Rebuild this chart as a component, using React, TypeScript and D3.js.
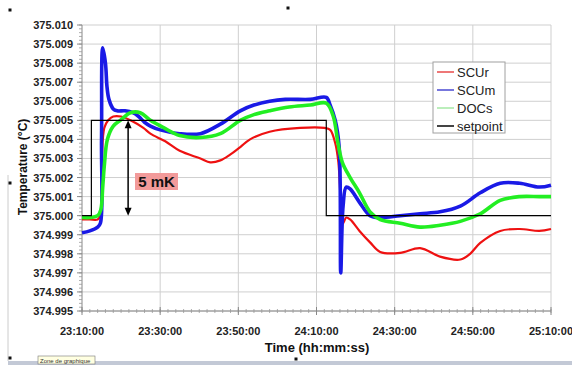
import * as d3 from "d3";

// time in minutes after 23:10:00, temperature in °C
const scurTime = [0, 2, 4, 4.7, 5.1, 5.7, 6.7, 8, 10, 12.4, 15.7, 17.5, 21.3, 25, 30.3, 32.8, 35.4, 37.9, 40.5, 43, 48, 55.8, 62, 63.5, 64.8, 65.6, 66.2, 66.8, 67.6, 68.6, 71, 73.7, 76.3, 81.4, 86.5, 91.6, 96.8, 99.3, 101.9, 107, 112, 117, 120];
const scurValues = [374.9998, 374.9998, 374.9998, 375.0, 375.003, 375.0046, 375.005, 375.0052, 375.0052, 375.005, 375.0046, 375.0043, 375.0039, 375.0034, 375.003, 375.0028, 375.0029, 375.0032, 375.0036, 375.004, 375.0044, 375.0046, 375.0046, 375.0045, 375.0038, 375.0028, 375.0008, 374.9996, 374.9999, 374.9998, 374.9992, 374.9986, 374.9981, 374.99805, 374.9983, 374.99785, 374.9977, 374.998, 374.99857, 374.9992, 374.9993, 374.9992, 374.9993];

const scumTime = [0, 2, 4, 4.7, 5.0, 5.3, 6.0, 6.4, 6.9, 8, 9, 11, 13, 14.5, 16, 17.5, 20, 25, 30.3, 35.4, 40.5, 44, 48, 52, 58.4, 62.5, 63.5, 64.8, 65.8, 66.2, 66.8, 67.6, 68.6, 71, 73.7, 76.3, 81.4, 86.5, 91.6, 96.8, 101.9, 107, 112, 117, 120];
const scumValues = [374.9991, 374.9992, 374.9994, 374.9996, 375.004, 375.0088, 375.008, 375.00675, 375.0061, 375.0056, 375.0055, 375.0055, 375.0054, 375.0052, 375.0049, 375.0047, 375.0045, 375.0043, 375.0043, 375.0048, 375.0055, 375.0058, 375.006, 375.0061, 375.0061, 375.0062, 375.0058, 375.005, 375.0036, 374.997, 375.0005, 375.0015, 375.0014, 375.0007, 375.0, 374.9999, 375.0, 375.0001, 375.0002, 375.0005, 375.0012, 375.0017, 375.0017, 375.0015, 375.0016];

const docsTime = [0, 2, 4, 4.8, 5.3, 5.7, 6.5, 8, 9.8, 12.4, 14.9, 17.5, 21, 25, 30.3, 35.4, 40.5, 44, 48, 53, 58.4, 62.5, 64.3, 65.5, 66.6, 68.6, 71, 73.7, 76.3, 81.4, 86.5, 91.6, 96.8, 101.9, 107, 112, 117, 120];
const docsValues = [374.9999, 374.9999, 375.0, 375.0003, 375.0015, 375.0026, 375.004, 375.0047, 375.005, 375.0054, 375.0054, 375.005, 375.0046, 375.0042, 375.0041, 375.0043, 375.005, 375.0053, 375.0055, 375.0057, 375.0058, 375.0059, 375.0052, 375.0038, 375.0028, 375.002, 375.0012, 375.0002, 374.9998, 374.9996, 374.9994, 374.9995, 374.9997, 375.0001, 375.0008, 375.001, 375.001, 375.001];

const setpointTime = [0, 2.4, 62.5, 120];
const setpointValues = [375.0, 375.005, 375.0, 375.0];

const xTickValues = [0, 20, 40, 60, 80, 100, 120];
const xTickLabels = ["23:10:00", "23:30:00", "23:50:00", "24:10:00", "24:30:00", "24:50:00", "25:10:00"];
const yTickValues = [374.995, 374.996, 374.997, 374.998, 374.999, 375.0, 375.001, 375.002, 375.003, 375.004, 375.005, 375.006, 375.007, 375.008, 375.009, 375.01];

const seriesNames = ["SCUr", "SCUm", "DOCs", "setpoint"];
const seriesColors = ["#ee1111", "#1a1ae6", "#22ee22", "#000000"];
const legendColors = ["#ee7777", "#7777dd", "#bbeebb", "#444444"];

const font = "'Liberation Sans', Arial, sans-serif";

export default function App() {
  const width = 572;
  const height = 365;

  const x = d3.scaleLinear().domain([0, 120]).range([82, 551]);
  const y = d3.scaleLinear().domain([374.995, 375.01]).range([311, 25]);

  const line = (ts: number[], vs: number[]) =>
    d3
      .line<number>()
      .x((_, i) => x(ts[i]))
      .y((v) => y(v))
      .curve(d3.curveCatmullRom.alpha(0.5))(vs) as string;

  const stepLine = d3
    .line<number>()
    .x((_, i) => x(setpointTime[i]))
    .y((v) => y(v))
    .curve(d3.curveStepAfter)(setpointValues) as string;

  const xMinor = d3.range(0, 120.01, 2);
  const yMinor = d3.range(0, 75.5, 1).map((k) => 374.995 + k * 0.0002);

  const arrowX = x(11.8);
  const yTop = y(375.005);
  const yBot = y(375.0);

  return (
    <svg
      width={width}
      height={height}
      style={{ position: "absolute", left: 0, top: 0, background: "#fff" }}
      fontFamily={font}
    >
      {/* frame bits from the screenshot */}
      <line x1={8} x2={8} y1={175} y2={361} stroke="#cccccc" />
      <rect x={8} y={361} width={564} height={4} fill="#c3c9d6" />
      {[
        [10, 10],
        [288, 8],
        [10, 183],
        [10, 358],
        [296, 359],
      ].map(([cx, cy], i) => (
        <rect key={i} x={cx - 1.5} y={cy - 1.5} width={3} height={3} fill="#111" />
      ))}
      <rect x={38} y={356} width={57} height={8} fill="#ffffe1" stroke="#777" strokeWidth={0.6} />
      <text x={40} y={362.5} fontSize={6} fill="#333">
        Zone de graphique
      </text>

      {/* grid */}
      {yTickValues.map((v) => (
        <line key={v} x1={82} x2={551} y1={y(v)} y2={y(v)} stroke="#cfcfcf" />
      ))}
      {xTickValues.slice(1).map((t) => (
        <line key={t} x1={x(t)} x2={x(t)} y1={25} y2={311} stroke="#cfcfcf" />
      ))}

      {/* axes */}
      <line x1={82} x2={82} y1={25} y2={311} stroke="#888" />
      <line x1={82} x2={551} y1={311} y2={311} stroke="#888" />
      {yMinor.map((v, i) => (
        <line key={i} x1={79} x2={82} y1={y(v)} y2={y(v)} stroke="#999" strokeWidth={0.8} />
      ))}
      {yTickValues.map((v) => (
        <line key={v} x1={77} x2={82} y1={y(v)} y2={y(v)} stroke="#888" />
      ))}
      {xMinor.map((t) => (
        <line key={t} x1={x(t)} x2={x(t)} y1={309} y2={313} stroke="#999" strokeWidth={0.8} />
      ))}
      {xTickValues.map((t) => (
        <line key={t} x1={x(t)} x2={x(t)} y1={307} y2={315} stroke="#888" />
      ))}

      {yTickValues.map((v) => (
        <text key={v} x={73} y={y(v) + 4} fontSize={11} fontWeight="bold" textAnchor="end" fill="#222">
          {v.toFixed(3)}
        </text>
      ))}
      {xTickValues.map((t, i) => (
        <text key={t} x={x(t)} y={335} fontSize={11} fontWeight="bold" textAnchor="middle" fill="#222">
          {xTickLabels[i]}
        </text>
      ))}
      <text x={317} y={352} fontSize={13} fontWeight="bold" textAnchor="middle" fill="#111">
        Time (hh:mm:ss)
      </text>
      <text
        transform="translate(27,167) rotate(-90)"
        fontSize={12}
        fontWeight="bold"
        textAnchor="middle"
        fill="#111"
      >
        Temperature (°C)
      </text>

      {/* series */}
      <path d={line(scurTime, scurValues)} fill="none" stroke={seriesColors[0]} strokeWidth={2.2} strokeLinejoin="round" />
      <path d={line(scumTime, scumValues)} fill="none" stroke={seriesColors[1]} strokeWidth={3.6} strokeLinejoin="round" />
      <path d={line(docsTime, docsValues)} fill="none" stroke={seriesColors[2]} strokeWidth={3.6} strokeLinejoin="round" />
      <path d={stepLine} fill="none" stroke={seriesColors[3]} strokeWidth={1.2} />

      {/* 5 mK annotation */}
      <line x1={arrowX} x2={arrowX} y1={yTop + 6} y2={yBot - 6} stroke="#000" strokeWidth={1.5} />
      <path d={`M${arrowX},${yTop} l-3.5,8 h7 Z`} fill="#000" />
      <path d={`M${arrowX},${yBot} l-3.5,-8 h7 Z`} fill="#000" />
      <rect x={135} y={173} width={43} height={17} fill="#f29a9a" />
      <text x={156.5} y={187} fontSize={15} fontWeight="bold" textAnchor="middle" fill="#111">
        5 mK
      </text>

      {/* legend */}
      <rect x={433} y={62} width={72} height={71} fill="#fff" stroke="#a0a0a0" />
      {seriesNames.map((name, i) => (
        <g key={name}>
          <line x1={437} x2={454} y1={72 + i * 18} y2={72 + i * 18} stroke={legendColors[i]} strokeWidth={2} />
          <text x={457} y={76.5 + i * 18} fontSize={13} fill="#222">
            {name}
          </text>
        </g>
      ))}
    </svg>
  );
}
